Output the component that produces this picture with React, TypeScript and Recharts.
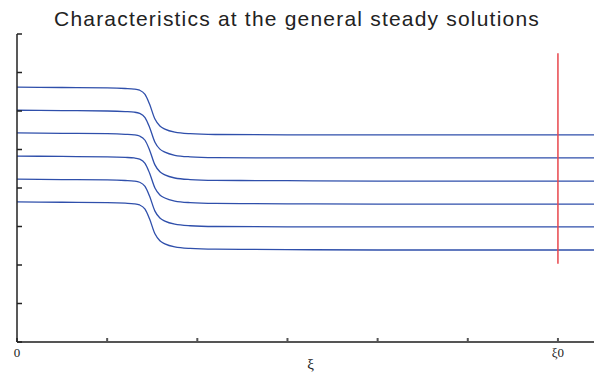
import { LineChart, Line, XAxis, YAxis, ReferenceLine, Label } from 'recharts';

// sample positions along xi
const xs = [0, 0.5, 1.0, 1.2, 1.3, 1.36, 1.42, 1.47, 1.53, 1.585, 1.64, 1.75, 1.92, 2.2, 3, 4, 5, 6, 6.4];

// characteristic curves, top to bottom
const c1 = [6.62, 6.61, 6.60, 6.585, 6.57, 6.54, 6.43, 6.18, 5.79, 5.61, 5.53, 5.45, 5.41, 5.39, 5.38, 5.38, 5.38, 5.38, 5.38];
const c2 = [6.02, 6.01, 6.00, 5.985, 5.97, 5.94, 5.83, 5.58, 5.19, 5.01, 4.93, 4.85, 4.81, 4.79, 4.78, 4.78, 4.78, 4.78, 4.78];
const c3 = [5.43, 5.42, 5.41, 5.395, 5.38, 5.35, 5.24, 4.99, 4.60, 4.42, 4.34, 4.26, 4.22, 4.20, 4.19, 4.18, 4.18, 4.18, 4.18];
const c4 = [4.83, 4.82, 4.81, 4.795, 4.78, 4.75, 4.64, 4.39, 4.00, 3.82, 3.74, 3.66, 3.62, 3.60, 3.59, 3.58, 3.58, 3.58, 3.58];
const c5 = [4.23, 4.22, 4.21, 4.195, 4.18, 4.15, 4.04, 3.79, 3.40, 3.22, 3.14, 3.06, 3.02, 3.00, 2.99, 2.99, 2.99, 2.99, 2.99];
const c6 = [3.64, 3.63, 3.62, 3.605, 3.59, 3.56, 3.45, 3.20, 2.81, 2.63, 2.55, 2.47, 2.43, 2.41, 2.40, 2.39, 2.39, 2.39, 2.39];
const curves = [c1, c2, c3, c4, c5, c6];

const xTicks = [0, 1, 2, 3, 4, 5, 6];
const yTicks = [0, 1, 2, 3, 4, 5, 6, 7, 8];
const xi0 = 6;
const redLow = 2.03;
const redHigh = 7.5;

const data = xs.map((x, i) => {
  const row: Record<string, number> = { x };
  curves.forEach((c, k) => { row[`c${k + 1}`] = c[i]; });
  return row;
});

export default function App() {
  return (
    <div style={{ position: 'absolute', left: 0, top: 0, width: 594, height: 374, background: '#fff' }}>
      <div style={{
        position: 'absolute', left: 0, top: 5, width: 594, textAlign: 'center', lineHeight: '28px',
        fontFamily: '"Liberation Sans", Arial, sans-serif', fontSize: 21, letterSpacing: 1.2, color: '#222',
      }}>
        Characteristics at the general steady solutions
      </div>
      <LineChart width={594} height={374} data={data} margin={{ top: 34, right: 0, bottom: 0, left: 0 }}>
        <XAxis
          dataKey="x"
          type="number"
          domain={[0, 6.4]}
          ticks={xTicks}
          tickSize={-4}
          tickMargin={10}
          height={32}
          stroke="#555"
          strokeWidth={2}
          tickFormatter={(v: number) => (v === 0 ? '0' : v === xi0 ? 'ξ0' : '')}
          tick={{ fill: '#222', fontSize: 13, fontFamily: '"Liberation Serif", serif' }}
          allowDataOverflow
        >
          <Label value="ξ" position="insideBottom" offset={5} dx={5} style={{ fill: '#222', fontSize: 15, fontFamily: '"Liberation Serif", serif' }} />
        </XAxis>
        <YAxis
          type="number"
          domain={[0, 8]}
          ticks={yTicks}
          width={17}
          tickSize={-5}
          stroke="#222"
          strokeWidth={1.5}
          tickFormatter={() => ''}
        />
        {curves.map((_, k) => (
          <Line
            key={k}
            dataKey={`c${k + 1}`}
            type="monotone"
            stroke="#2f4fab"
            strokeWidth={1.3}
            dot={false}
            isAnimationActive={false}
          />
        ))}
        <ReferenceLine
          segment={[{ x: xi0, y: redLow }, { x: xi0, y: redHigh }]}
          stroke="#e8464c"
          strokeWidth={1.5}
          ifOverflow="visible"
        />
      </LineChart>
    </div>
  );
}
